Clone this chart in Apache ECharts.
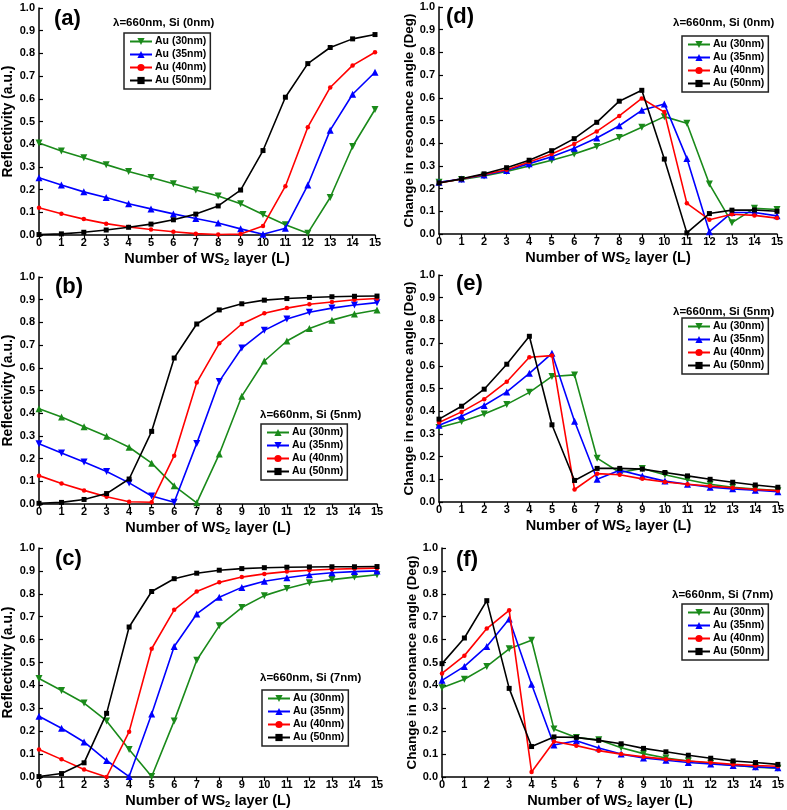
<!DOCTYPE html>
<html>
<head>
<meta charset="utf-8">
<script src="https://cdn.jsdelivr.net/npm/echarts@6/dist/echarts.min.js"></script>
<style>html,body{margin:0;padding:0;background:#fff}#c{width:787px;height:810px}</style>
</head>
<body>
<div id="c"></div>
<script>
var layers = [0,1,2,3,4,5,6,7,8,9,10,11,12,13,14,15];
var seriesNames = ['Au (30nm)','Au (35nm)','Au (40nm)','Au (50nm)'];
var yTicks = [0,0.1,0.2,0.3,0.4,0.5,0.6,0.7,0.8,0.9,1.0];

// (a) Reflectivity, Si 0nm
var a30 = [0.405,0.37,0.34,0.31,0.28,0.253,0.226,0.198,0.172,0.138,0.09,0.045,0.008,0.165,0.39,0.553];
var a35 = [0.252,0.22,0.19,0.165,0.138,0.115,0.093,0.073,0.053,0.027,0.003,0.03,0.22,0.462,0.62,0.717];
var a40 = [0.12,0.094,0.07,0.05,0.035,0.024,0.014,0.006,0.002,0.004,0.04,0.215,0.475,0.65,0.747,0.805];
var a50 = [0.002,0.005,0.012,0.022,0.034,0.048,0.067,0.092,0.128,0.198,0.372,0.607,0.755,0.826,0.864,0.883];
// (b) Reflectivity, Si 5nm
var b30 = [0.42,0.383,0.34,0.298,0.25,0.18,0.08,0.005,0.22,0.475,0.63,0.718,0.773,0.81,0.837,0.855];
var b35 = [0.265,0.225,0.185,0.143,0.093,0.035,0.008,0.267,0.54,0.687,0.765,0.815,0.845,0.863,0.877,0.887];
var b40 = [0.125,0.09,0.06,0.032,0.01,0.008,0.213,0.535,0.708,0.793,0.84,0.863,0.88,0.89,0.9,0.905];
var b50 = [0.003,0.007,0.02,0.046,0.11,0.32,0.643,0.793,0.855,0.882,0.898,0.905,0.91,0.913,0.915,0.916];
// (c) Reflectivity, Si 7nm
var c30 = [0.43,0.378,0.323,0.245,0.12,0.002,0.245,0.51,0.66,0.74,0.792,0.823,0.848,0.862,0.873,0.883];
var c35 = [0.265,0.213,0.153,0.072,0.002,0.275,0.57,0.712,0.785,0.828,0.855,0.87,0.883,0.892,0.897,0.9];
var c40 = [0.12,0.077,0.033,0.0,0.198,0.56,0.73,0.81,0.85,0.873,0.887,0.897,0.903,0.907,0.91,0.912];
var c50 = [0.002,0.015,0.062,0.278,0.655,0.81,0.866,0.89,0.903,0.91,0.914,0.916,0.917,0.918,0.918,0.919];
// (d) Resonance angle change, Si 0nm
var d30 = [0.228,0.24,0.256,0.275,0.3,0.325,0.352,0.386,0.425,0.47,0.517,0.488,0.22,0.05,0.113,0.108];
var d35 = [0.228,0.242,0.26,0.28,0.31,0.34,0.378,0.423,0.477,0.545,0.573,0.333,0.01,0.095,0.095,0.08];
var d40 = [0.225,0.242,0.262,0.283,0.317,0.352,0.397,0.452,0.52,0.597,0.537,0.135,0.063,0.087,0.082,0.07];
var d50 = [0.225,0.243,0.265,0.292,0.325,0.367,0.42,0.492,0.585,0.633,0.33,0.005,0.09,0.105,0.106,0.1];
// (e) Resonance angle change, Si 5nm
var e30 = [0.328,0.355,0.388,0.43,0.483,0.553,0.56,0.193,0.13,0.148,0.12,0.098,0.078,0.065,0.057,0.05];
var e35 = [0.338,0.378,0.425,0.485,0.567,0.655,0.356,0.1,0.14,0.115,0.092,0.078,0.065,0.058,0.052,0.045];
var e40 = [0.35,0.397,0.453,0.53,0.638,0.645,0.055,0.125,0.12,0.102,0.088,0.078,0.07,0.063,0.055,0.05];
var e50 = [0.365,0.422,0.497,0.607,0.73,0.34,0.095,0.148,0.148,0.145,0.13,0.115,0.1,0.087,0.075,0.065];
// (f) Resonance angle change, Si 7nm
var f30 = [0.39,0.427,0.483,0.56,0.597,0.21,0.172,0.163,0.128,0.102,0.083,0.07,0.06,0.052,0.043,0.038];
var f35 = [0.422,0.483,0.57,0.69,0.405,0.14,0.158,0.127,0.1,0.083,0.073,0.063,0.057,0.05,0.045,0.04];
var f40 = [0.452,0.53,0.648,0.728,0.022,0.155,0.137,0.115,0.1,0.088,0.078,0.07,0.063,0.055,0.05,0.047];
var f50 = [0.495,0.607,0.77,0.387,0.133,0.175,0.173,0.16,0.145,0.125,0.11,0.095,0.082,0.07,0.063,0.055];

var panelLabels = ['(a)','(b)','(c)','(d)','(e)','(f)'];
var conditionLabels = ['\u03bb=660nm, Si (0nm)','\u03bb=660nm, Si (5nm)','\u03bb=660nm, Si (7nm)','\u03bb=660nm, Si (0nm)','\u03bb=660nm, Si (5nm)','\u03bb=660nm, Si (7nm)'];
var yNames = ['Reflectivity (a.u.)','Reflectivity (a.u.)','Reflectivity (a.u.)','Change in resonance angle (Deg)','Change in resonance angle (Deg)','Change in resonance angle (Deg)'];
var xName = 'Number of WS{sub|2} layer (L)';
var panelData = [[a30,a35,a40,a50],[b30,b35,b40,b50],[c30,c35,c40,c50],[d30,d35,d40,d50],[e30,e35,e40,e50],[f30,f35,f40,f50]];

// layout
var grids = [
  {left:37, top:8, width:338, height:227},
  {left:39, top:277, width:338, height:227},
  {left:39, top:548, width:338, height:229},
  {left:439, top:7, width:338, height:227},
  {left:439, top:275, width:339, height:227},
  {left:442, top:548, width:339, height:229}
];
var panelPos = [[54,8],[55,276],[55,548],[446,6],[456,273],[456,549]];
var condPos = [[113,17],[260,409],[260,672],[673,17],[673,306],[672,589]];
var legendPos = [[124,33],[261,424],[262,690],[682,36],[682,318],[682,604]];
var colors = ['#1a8a1a','#0000ff','#ff0000','#000000'];
// marker shape per panel: [30nm, 35nm]; 'down' = inverted triangle
var triDir = [['down','up'],['up','down'],['down','up'],['down','up'],['down','up'],['down','up']];

var FONT = 'Liberation Sans, Arial, sans-serif';
var option = {
  animation:false,
  backgroundColor:'#fff',
  textStyle:{fontFamily:FONT},
  grid:[], xAxis:[], yAxis:[], series:[], legend:[], title:[]
};

for (var p=0;p<6;p++){
  option.grid.push(grids[p]);
  option.xAxis.push({
    type:'value', gridIndex:p, min:0, max:15, interval:1,
    name:xName, nameLocation:'middle', nameGap:16,
    nameTextStyle:{fontSize:14.5, fontWeight:'bold', color:'#000', fontFamily:FONT,
      rich:{sub:{fontSize:9.5, fontWeight:'bold', verticalAlign:'bottom', padding:[6,0,0,0], fontFamily:FONT}}},
    axisLine:{lineStyle:{color:'#000', width:1.5}},
    axisTick:{inside:false, length:4, lineStyle:{color:'#000', width:1.2}},
    axisLabel:{fontSize:11, fontWeight:'bold', color:'#000', margin:2},
    splitLine:{show:false}
  });
  option.yAxis.push({
    type:'value', gridIndex:p, min:0, max:1, interval:0.1,
    name:yNames[p], nameLocation:'middle', nameGap:p<3?24:22,
    nameTextStyle:{fontSize:p<3?14:13.5, fontWeight:'bold', color:'#000', fontFamily:FONT},
    axisLine:{show:true, lineStyle:{color:'#000', width:1.5}},
    axisTick:{show:true, inside:true, length:4, lineStyle:{color:'#000', width:1.2}},
    axisLabel:{fontSize:11, fontWeight:'bold', color:'#000', margin:4,
      formatter:function(v){return v.toFixed(1);}},
    splitLine:{show:false}
  });
  var legendData = [];
  for (var s=0;s<4;s++){
    var nm = 'p'+p+'s'+s;
    legendData.push(nm);
    var sym, size=6, rot=0;
    if (s<2){ sym='triangle'; size=7; rot = triDir[p][s]==='down'?180:0; }
    else if (s===2){ sym='circle'; size=4.5; }
    else { sym='rect'; size=5; }
    var pts = [];
    for (var i=0;i<layers.length;i++) pts.push([layers[i], panelData[p][s][i]]);
    option.series.push({
      type:'line', name:nm, xAxisIndex:p, yAxisIndex:p, data:pts,
      symbol:sym, symbolSize:size, symbolRotate:rot, showSymbol:true,
      lineStyle:{color:colors[s], width:1.6},
      itemStyle:{color:colors[s], borderWidth:0},
      z: 2+s
    });
  }
  option.legend.push({
    data:legendData, orient:'vertical', left:legendPos[p][0], top:legendPos[p][1],
    padding:[3,4,3,5], itemGap:2, itemWidth:22, itemHeight:9,
    borderColor:'#222', borderWidth:1.5, backgroundColor:'#fff',
    selectedMode:false,
    formatter:function(n){return seriesNames[+n.charAt(3)];},
    textStyle:{fontSize:10.5, fontWeight:'bold', color:'#000', fontFamily:FONT, padding:[0,0,0,-2]}
  });
  option.title.push({
    text:panelLabels[p], left:panelPos[p][0], top:panelPos[p][1], padding:0,
    textStyle:{fontSize:22, fontWeight:'bold', color:'#000', fontFamily:FONT}
  });
  option.title.push({
    text:conditionLabels[p], left:condPos[p][0], top:condPos[p][1], padding:0,
    textStyle:{fontSize:11.5, fontWeight:'bold', color:'#000', fontFamily:FONT}
  });
}

var chart = echarts.init(document.getElementById('c'), null, {renderer:'canvas'});
chart.setOption(option);
</script>
</body>
</html>
